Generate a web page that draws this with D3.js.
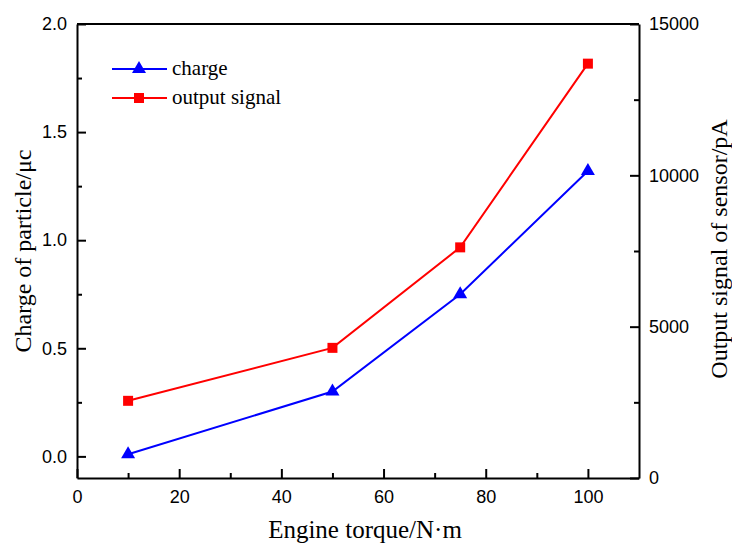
<!DOCTYPE html>
<html>
<head>
<meta charset="utf-8">
<script src="https://cdn.jsdelivr.net/npm/d3@7"></script>
<style>
  body { margin: 0; background: #fff; }
  .tick text { font-family: "Liberation Sans", Arial, sans-serif; font-size: 18px; fill: #000; }
  .domain, .tick line { stroke: #000; stroke-width: 2px; }
  .lbl { font-family: "Liberation Serif", "Times New Roman", serif; font-size: 24px; fill: #000; }
</style>
</head>
<body>
<script>
// data
var torque = [10, 50, 75, 100];
var charge = [0.01, 0.30, 0.75, 1.32];
var outputSignal = [2550, 4300, 7620, 13690];
var leftTicks = [0, 0.5, 1.0, 1.5, 2.0];
var rightTicks = [0, 5000, 10000, 15000];
var xTicks = [0, 20, 40, 60, 80, 100];

var W = 732, H = 544;
var margin = {top: 24, right: 93, bottom: 66, left: 77},
    width = W - margin.left - margin.right,
    height = H - margin.top - margin.bottom;

var x = d3.scaleLinear().domain([0, 110]).range([0, width]),
    yL = d3.scaleLinear().domain([-0.1, 2.0]).range([height, 0]),
    yR = d3.scaleLinear().domain([0, 15000]).range([height, 0]);

var svg = d3.select("body").append("svg")
    .attr("width", W).attr("height", H)
  .append("g")
    .attr("transform", "translate(" + margin.left + "," + margin.top + ")");

// minor ticks first, then major axes
function minor(g, axis) { g.call(axis); g.selectAll("text").remove(); g.select(".domain").remove(); }

svg.append("g").attr("transform", "translate(0," + height + ")")
   .call(minor, d3.axisTop(x).tickValues(d3.range(10, 110, 20)).tickSize(5));
svg.append("g")
   .call(minor, d3.axisRight(yL).tickValues([0.25, 0.75, 1.25, 1.75]).tickSize(5));
svg.append("g").attr("transform", "translate(" + width + ",0)")
   .call(minor, d3.axisLeft(yR).tickValues([2500, 7500, 12500]).tickSize(5));

svg.append("g").attr("transform", "translate(0," + height + ")")
   .call(d3.axisBottom(x).tickValues(xTicks).tickFormat(d3.format("d")).tickSizeInner(-9).tickSizeOuter(0).tickPadding(12));

svg.append("g")
   .call(d3.axisLeft(yL).tickValues(leftTicks).tickFormat(d3.format(".1f")).tickSizeInner(-9).tickSizeOuter(0).tickPadding(10));

svg.append("g").attr("transform", "translate(" + width + ",0)")
   .call(d3.axisRight(yR).tickValues(rightTicks).tickFormat(d3.format("d")).tickSizeInner(-9).tickSizeOuter(0).tickPadding(10));

// top border
svg.append("line").attr("x1", 0).attr("x2", width).attr("y1", 0).attr("y2", 0)
   .attr("stroke", "#000").attr("stroke-width", 2);

// lines
var chargeData = torque.map(function(t, i){ return {x: t, y: charge[i]}; });
var outData = torque.map(function(t, i){ return {x: t, y: outputSignal[i]}; });

svg.append("path").datum(outData)
   .attr("fill", "none").attr("stroke", "#ff0000").attr("stroke-width", 2)
   .attr("d", d3.line().x(function(d){ return x(d.x); }).y(function(d){ return yR(d.y); }));
svg.append("path").datum(chargeData)
   .attr("fill", "none").attr("stroke", "#0000ff").attr("stroke-width", 2)
   .attr("d", d3.line().x(function(d){ return x(d.x); }).y(function(d){ return yL(d.y); }));

var tri = d3.symbol().type(d3.symbolTriangle).size(85);
var sq = d3.symbol().type(d3.symbolSquare).size(100);

svg.selectAll(".sq").data(outData).enter().append("path")
   .attr("d", sq).attr("fill", "#ff0000")
   .attr("transform", function(d){ return "translate(" + x(d.x) + "," + yR(d.y) + ")"; });
svg.selectAll(".tri").data(chargeData).enter().append("path")
   .attr("d", tri).attr("fill", "#0000ff")
   .attr("transform", function(d){ return "translate(" + x(d.x) + "," + yL(d.y) + ")"; });

// legend
var legend = [{name: "charge", color: "#0000ff", sym: tri, y: 45},
              {name: "output signal", color: "#ff0000", sym: sq, y: 74}];
var lg = svg.selectAll(".leg").data(legend).enter().append("g")
   .attr("transform", function(d){ return "translate(35," + d.y + ")"; });
lg.append("line").attr("x1", 0).attr("x2", 55).attr("stroke", function(d){ return d.color; }).attr("stroke-width", 2);
lg.append("path").attr("d", function(d){ return d.sym(); }).attr("fill", function(d){ return d.color; })
   .attr("transform", "translate(27,0)");
lg.append("text").attr("class", "lbl").attr("x", 60).attr("dy", "0.3em").style("font-size", "21px")
   .text(function(d){ return d.name; });

// axis labels
svg.append("text").attr("class", "lbl").attr("text-anchor", "middle").style("font-size", "25px")
   .attr("x", width / 2 + 7).attr("y", height + 60).text("Engine torque/N·m");
svg.append("text").attr("class", "lbl").attr("text-anchor", "middle")
   .attr("transform", "translate(-46," + (height / 2) + ") rotate(-90)").text("Charge of particle/μc");
svg.append("text").attr("class", "lbl").attr("text-anchor", "middle")
   .attr("transform", "translate(" + (width + 88) + "," + (height / 2 - 2) + ") rotate(-90)").text("Output signal of sensor/pA");
</script>
</body>
</html>
